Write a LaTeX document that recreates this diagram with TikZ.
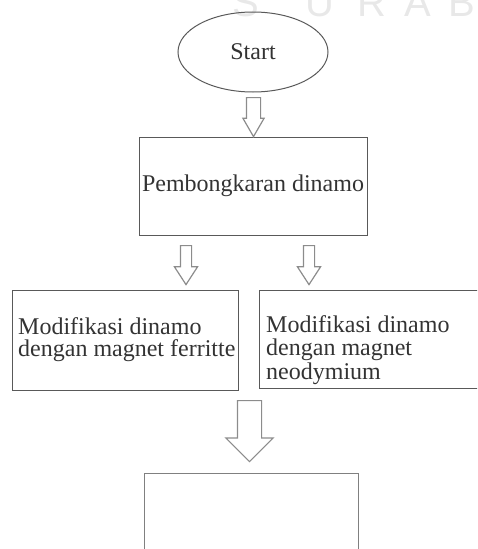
\documentclass[tikz,border=0pt]{standalone}
\usepackage{fontspec}
\setmainfont{Liberation Serif}
\newfontfamily\wmfont{Liberation Sans}
\usetikzlibrary{shapes.geometric, shapes.arrows, positioning}

\tikzset{
  box/.style={draw=black!65, line width=1pt, rectangle, inner sep=0pt},
  blockarrow/.style={single arrow, draw=black!45, line width=1.2pt, shape border rotate=270, anchor=tail},
  txt/.style={text=black!80, font=\fontsize{24}{22.5}\selectfont}
}

\begin{document}
\begin{tikzpicture}[x=1pt, y=-1pt]
\useasboundingbox (0,0) rectangle (477,549);
\clip (0,0) rectangle (477,549);

% faint watermark at the top edge
\foreach \ch/\xx in {S/246, U/320, R/372, A/418, B/462}
  \node[text=black!9, font=\wmfont\fontsize{40}{40}\selectfont, anchor=base, inner sep=0pt] (wm\ch) at (\xx,16) {\ch};

\node[draw=black!65, line width=1pt, ellipse, minimum width=150, minimum height=80, txt] (start) at (253,52) {Start};
\node[box, txt, minimum width=228, minimum height=98] (dismantle) at (253,186) {Pembongkaran dinamo};

\node[box, minimum width=226, minimum height=100] (ferrite) at (125,340) {};
\node[txt, align=left, anchor=north west, inner sep=0pt] (ferritetext) at (18,317) {Modifikasi dinamo\\dengan magnet ferritte};

\node[box, minimum width=240, minimum height=98] (neodym) at (379,339) {};
\node[txt, font=\fontsize{24}{23.2}\selectfont, align=left, anchor=north west, inner sep=0pt] (neodymtext) at (266,315.5) {Modifikasi dinamo\\dengan magnet\\neodymium};

\node[box, draw=black!50, minimum width=214, minimum height=120] (result) at (251,533) {};

% block arrows
\node[blockarrow, minimum height=39, inner sep=6.5, single arrow head extend=3.5, single arrow tip angle=60] (arrA) at (253.5,97) {};
\node[blockarrow, minimum height=39, inner sep=5, single arrow head extend=6, single arrow tip angle=66] (arrB) at (186,245) {};
\node[blockarrow, minimum height=39, inner sep=5, single arrow head extend=6, single arrow tip angle=66] (arrC) at (309,245) {};
\node[blockarrow, minimum height=61, inner sep=11.5, single arrow head extend=11.5, single arrow tip angle=90] (arrD) at (249.5,400) {};
\end{tikzpicture}
\end{document}
